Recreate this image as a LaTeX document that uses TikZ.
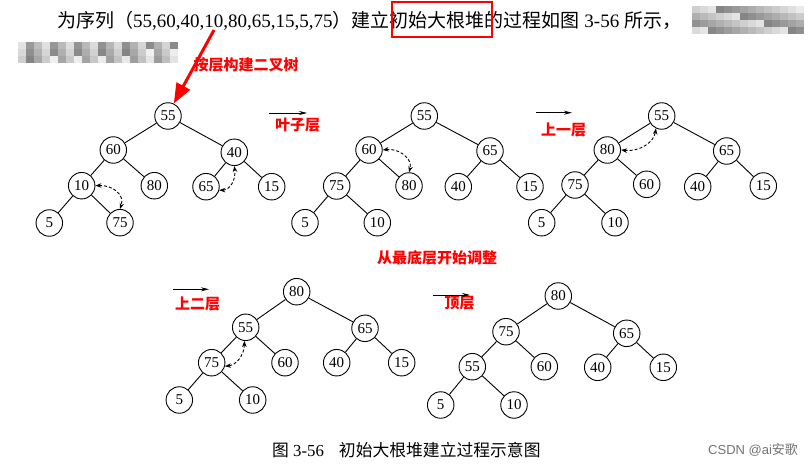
\documentclass[tikz,border=0pt]{standalone}
\usepackage{fontspec}
\setmainfont{Liberation Serif}
\newfontfamily\cjk{Noto Sans CJK SC}
\newfontfamily\lsans{Liberation Sans}
\usetikzlibrary{arrows.meta}
\begin{document}
\begin{tikzpicture}[x=1pt,y=-1pt,
  nd/.style={circle,draw,line width=0.9pt,minimum size=26.5pt,inner sep=0pt,font=\fontsize{15}{15}\selectfont},
  edge/.style={line width=0.9pt},
  swapar/.style={line width=0.9pt,dash pattern=on 3pt off 2pt,{Stealth[length=6pt,width=4.5pt]}-{Stealth[length=6pt,width=4.5pt]}},
  larrow/.style={line width=0.8pt,-{Stealth[length=8pt,width=4pt]}},
  redlab/.style={text=red,font=\cjk\bfseries\fontsize{15}{15}\selectfont,inner sep=0pt},
  redarrow/.style={draw=red,fill=red,line width=3pt,-{Triangle[length=20pt,width=15pt]}}
]
\useasboundingbox[fill=white] (0,0) rectangle (808,465);

% ---- top text ----
\node[anchor=base west,inner sep=0pt,font=\fontsize{19}{19}\selectfont] (toptext) at (57,28)
  {{\cjk 为序列（}55,60,40,10,80,65,15,5,75{\cjk ）建立初始大根堆的过程如图} 3-56 {\cjk 所示，}};
\draw[red,line width=1.2pt] (392,2) rectangle (492,37);

% blurred mosaic areas
\foreach \i in {0,...,13}{\foreach \j in {0,...,3}{
  \pgfmathsetmacro\g{int(mod(\i*37+\j*53+11,41))+8}
  \fill[black!\g] (692+\i*8,6+\j*7) rectangle ++(8,7);}}
\foreach \i in {0,...,19}{\foreach \j in {0,...,2}{
  \pgfmathsetmacro\g{int(mod(\i*29+\j*47+5,43))+6}
  \fill[black!\g] (18+\i*8,42+\j*7) rectangle ++(8,7);}}

% ---- red annotations ----
\node[redlab] (lab0) at (246,65) {按层构建二叉树};
\node[redlab] (lab1) at (297.5,125) {叶子层};
\node[redlab] (lab2) at (563.7,130) {上一层};
\node[redlab] (lab3) at (437,258) {从最底层开始调整};
\node[redlab] (lab4) at (197.5,304) {上二层};
\node[redlab] (lab5) at (459.7,303) {顶层};

% ---- tree 1 ----
\node[nd] (a55) at (168,116) {55};
\node[nd] (a60) at (113.3,150) {60};
\node[nd] (a40) at (234.3,152.3) {40};
\node[nd] (a10) at (81.7,185.7) {10};
\node[nd] (a80) at (154.3,185.7) {80};
\node[nd] (a65) at (206,186.7) {65};
\node[nd] (a15) at (271.7,186.7) {15};
\node[nd] (a5) at (49.3,223) {5};
\node[nd] (a75) at (120,222.7) {75};
\draw[edge] (a55)--(a60) (a55)--(a40) (a60)--(a10) (a60)--(a80) (a40)--(a65) (a40)--(a15) (a10)--(a5) (a10)--(a75);
\draw[swapar] (a10.east) .. controls (112,185) and (125,194) .. (a75.north);
\draw[swapar] (a65.-15) .. controls (230,190) and (236,180) .. (a40.south);

\coordinate (rs) at (214,30);
\draw[redarrow] (rs) -- (a55.65);

% ---- tree 2 ----
\coordinate (s1) at (269,113); \coordinate (e1) at (307,113);
\draw[larrow] (s1) -- (e1);
\node[nd] (b55) at (424.3,116) {55};
\node[nd] (b60) at (369,150) {60};
\node[nd] (b65) at (490,151) {65};
\node[nd] (b75) at (336.7,186) {75};
\node[nd] (b80) at (409,186) {80};
\node[nd] (b40) at (458.3,186.7) {40};
\node[nd] (b15) at (530,186.7) {15};
\node[nd] (b5) at (305,222.7) {5};
\node[nd] (b10) at (377.3,222.7) {10};
\draw[edge] (b55)--(b60) (b55)--(b65) (b60)--(b75) (b60)--(b80) (b65)--(b40) (b65)--(b15) (b75)--(b5) (b75)--(b10);
\draw[swapar] (b60.east) .. controls (398,148) and (413,158) .. (b80.north);

% ---- tree 3 ----
\coordinate (s2) at (536,112.7); \coordinate (e2) at (572,112.7);
\draw[larrow] (s2) -- (e2);
\node[nd] (c55) at (661.7,116) {55};
\node[nd] (c80) at (607.3,150) {80};
\node[nd] (c65) at (726.7,151) {65};
\node[nd] (c75) at (575,185) {75};
\node[nd] (c60) at (646.7,184.3) {60};
\node[nd] (c40) at (697.7,186.7) {40};
\node[nd] (c15) at (763.3,186) {15};
\node[nd] (c5) at (541.7,222.7) {5};
\node[nd] (c10) at (615,222.7) {10};
\draw[edge] (c55)--(c80) (c55)--(c65) (c80)--(c75) (c80)--(c60) (c65)--(c40) (c65)--(c15) (c75)--(c5) (c75)--(c10);
\draw[swapar] (c80.east) .. controls (640,152) and (654,142) .. (c55.-115);

% ---- tree 4 ----
\coordinate (s3) at (173.3,289.3); \coordinate (e3) at (209,289.3);
\draw[larrow] (s3) -- (e3);
\node[nd] (d80) at (296.7,291.7) {80};
\node[nd] (d55) at (245.7,327.3) {55};
\node[nd] (d65) at (365,328.3) {65};
\node[nd] (d75) at (211.7,362.7) {75};
\node[nd] (d60) at (285,362.7) {60};
\node[nd] (d40) at (336.7,362.7) {40};
\node[nd] (d15) at (401.7,362.7) {15};
\node[nd] (d5) at (179.3,400) {5};
\node[nd] (d10) at (252.7,400) {10};
\draw[edge] (d80)--(d55) (d80)--(d65) (d55)--(d75) (d55)--(d60) (d65)--(d40) (d65)--(d15) (d75)--(d5) (d75)--(d10);
\draw[swapar] (d55.-95) .. controls (244,356) and (236,365) .. (d75.-15);

% ---- tree 5 ----
\coordinate (s4) at (433.3,295); \coordinate (e4) at (470,295);
\draw[larrow] (s4) -- (e4);
\node[nd] (f80) at (558.3,296) {80};
\node[nd] (f75) at (506,331.7) {75};
\node[nd] (f65) at (626.7,333.3) {65};
\node[nd] (f55) at (472.3,366.7) {55};
\node[nd] (f60) at (544.3,366.7) {60};
\node[nd] (f40) at (597.7,367.3) {40};
\node[nd] (f15) at (663.3,367.3) {15};
\node[nd] (f5) at (440.7,405) {5};
\node[nd] (f10) at (514,405) {10};
\draw[edge] (f80)--(f75) (f80)--(f65) (f75)--(f55) (f75)--(f60) (f65)--(f40) (f65)--(f15) (f55)--(f5) (f55)--(f10);

% ---- caption ----
\node[anchor=base west,inner sep=0pt,font=\fontsize{16.8}{16.8}\selectfont] (cap) at (272,456)
  {{\cjk 图} 3-56\hspace{15pt}{\cjk 初始大根堆建立过程示意图}};
\node[anchor=base west,inner sep=0pt,text=black!55,font=\fontsize{13}{13}\selectfont] (wm) at (708,454)
  {{\lsans CSDN @ai}{\cjk 安歌}};
\end{tikzpicture}
\end{document}
